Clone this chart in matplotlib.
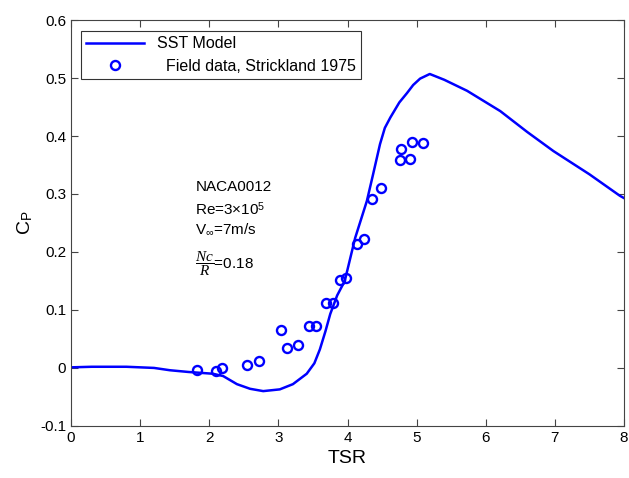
import matplotlib
matplotlib.use('Agg')
import matplotlib.pyplot as plt
import numpy as np

plt.rcParams['font.family'] = ['Liberation Sans', 'DejaVu Sans']
plt.rcParams['mathtext.fontset'] = 'custom'
plt.rcParams['mathtext.rm'] = 'Liberation Sans'
plt.rcParams['mathtext.it'] = 'Liberation Serif:italic'

# SST model curve
tsr_model = [0.0, 0.3, 0.8, 1.2, 1.43, 1.7, 2.05, 2.2, 2.4, 2.59, 2.78, 3.02, 3.21,
             3.41, 3.52, 3.6, 3.68, 3.75, 3.85, 3.96, 4.11, 4.28, 4.37, 4.47, 4.54,
             4.62, 4.75, 4.86, 4.95, 5.05, 5.19, 5.4, 5.73, 6.21, 6.6, 6.98, 7.5,
             7.94, 8.0]
cp_model = [0.001, 0.002, 0.002, 0.0, -0.004, -0.007, -0.01, -0.014, -0.028,
            -0.036, -0.040, -0.037, -0.028, -0.010, 0.008, 0.032, 0.063, 0.093,
            0.125, 0.15, 0.224, 0.288, 0.334, 0.386, 0.414, 0.432, 0.458, 0.474,
            0.488, 0.499, 0.507, 0.497, 0.478, 0.443, 0.407, 0.374, 0.334, 0.297,
            0.293]

# Field data, Strickland 1975
tsr_field = [1.82, 2.10, 2.18, 2.55, 2.72, 3.04, 3.12, 3.28, 3.44, 3.55, 3.69,
             3.79, 3.89, 3.98, 4.14, 4.24, 4.36, 4.49, 4.76, 4.78, 4.91, 4.93, 5.09]
cp_field = [-0.003, -0.005, 0.0, 0.005, 0.012, 0.065, 0.035, 0.040, 0.073, 0.073,
            0.112, 0.112, 0.152, 0.155, 0.213, 0.223, 0.292, 0.311, 0.358, 0.377,
            0.361, 0.390, 0.388]

fig = plt.figure(figsize=(6.29, 4.78), dpi=100)
ax = fig.add_axes([0.113, 0.109, 0.879, 0.849])

ax.plot(tsr_model, cp_model, color='#0000ff', lw=1.8, label='SST Model')
ax.plot(tsr_field, cp_field, 'o', ms=6.5, mfc='none', mec='#0000ff', mew=1.7,
        label='  Field data, Strickland 1975')

ax.set_xlim(0, 8)
ax.set_ylim(-0.1, 0.6)
ax.set_xticks(np.arange(0, 9, 1))
ax.set_yticks(np.arange(-0.1, 0.61, 0.1))
ax.set_yticklabels(['-0.1', '0', '0.1', '0.2', '0.3', '0.4', '0.5', '0.6'])
ax.tick_params(direction='in', labelsize=11, length=5, top=True, right=True,
               width=0.8, color='#444444')
for s in ax.spines.values():
    s.set_color('#444444')
ax.set_xlabel('TSR', fontsize=14)
ax.set_ylabel(r'C$_\mathregular{P}$', fontsize=14)

ax.text(1.80, 0.306, 'NACA0012', fontsize=11)
ax.text(1.80, 0.263, r'Re=3$\times$10$^\mathregular{5}$', fontsize=11)
ax.text(1.80, 0.232, r'V$_\mathregular{\infty}$=7m/s', fontsize=11)
ax.text(1.80, 0.172, r'$\dfrac{\mathit{N c}}{\mathit{R}}$=0.18', fontsize=11)

leg = ax.legend(loc='upper left', bbox_to_anchor=(0.003, 0.993), fontsize=11.5,
                frameon=True, fancybox=False, edgecolor='black',
                handlelength=3.6, borderpad=0.35, labelspacing=0.45)
leg.get_frame().set_linewidth(0.8)

fig.savefig('out.png', dpi=100)
